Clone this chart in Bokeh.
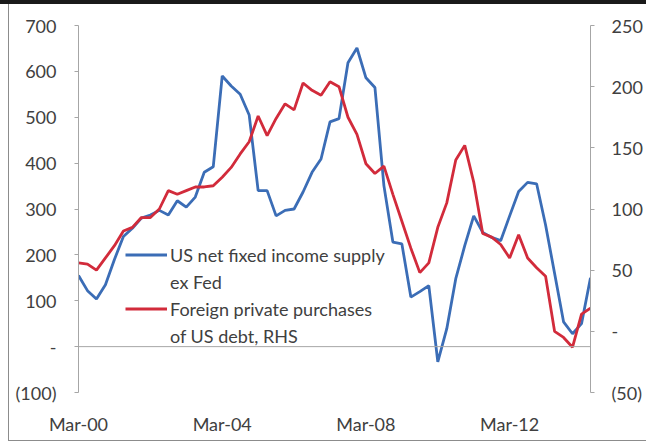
from bokeh.plotting import figure
from bokeh.models import (Range1d, LinearAxis, FixedTicker, Span, Legend, LegendItem,
                          ColumnDataSource)
from bokeh.embed import file_html
from bokeh.resources import INLINE

# Quarterly observations, Mar-00 .. Jun-14
x_tick_positions = [0, 16, 32, 48]
x_tick_labels = ["Mar-00", "Mar-04", "Mar-08", "Mar-12"]

supply = [155, 122, 104, 135, 190, 240, 258, 280, 287, 297,
          287, 318, 304, 326, 380, 392, 590, 568, 550, 505,
          340, 340, 285, 297, 300, 337, 380, 409, 490, 497,
          619, 651, 586, 565, 351, 228, 224, 108, 120, 133,
          -33, 39, 148, 220, 285, 249, 238, 231, 285, 338,
          358, 355, 265, 160, 54, 28, 50, 150]

foreign = [56, 55, 50, 60, 70, 82, 85, 93, 93, 100,
           115, 112, 115, 118, 118, 119, 126, 134, 145, 155,
           176, 160, 174, 186, 181, 203, 197, 193, 204, 200,
           175, 161, 137, 129, 135, 112, 90, 68, 48, 56,
           85, 105, 140, 152, 122, 80, 77, 71, 60, 79,
           60, 52, 45, 0, -5, -13, 14, 19]

left_ticks = [-100, 0, 100, 200, 300, 400, 500, 600, 700]
left_labels = ["(100)", "-", "100", "200", "300", "400", "500", "600", "700"]
right_ticks = [-50, 0, 50, 100, 150, 200, 250]
right_labels = ["(50)", "-", "50", "100", "150", "200", "250"]

idx = list(range(len(supply)))
src = ColumnDataSource(dict(x=idx, supply=supply, foreign=foreign))

FONT = "Lato"
FS = "18px"
TXT = "#404040"
AX = "#A6A6A6"
BLUE = "#3B6DB6"
RED = "#D22B3B"

p = figure(width=646, height=445, output_backend="svg", toolbar_location=None,
           x_range=Range1d(0, len(idx) - 1), y_range=Range1d(-100, 700),
           min_border_left=78, min_border_right=56, min_border_top=25, min_border_bottom=53)
p.extra_y_ranges = {"rhs": Range1d(-50, 250)}
p.xgrid.visible = False
p.ygrid.visible = False
p.outline_line_color = None
p.background_fill_color = "white"
p.border_fill_alpha = 0
# decorative chart frame painted behind the (transparent) border area
p.styles = {"background": (
    "linear-gradient(#1a1a1a, #1a1a1a) 0px 0px / 100% 4px no-repeat, "
    "linear-gradient(#8c8c8c, #8c8c8c) 8px 0px / 1px 441px no-repeat, "
    "linear-gradient(#8c8c8c, #8c8c8c) 8px 440px / 638px 1px no-repeat, "
    "white")}

# zero line
p.add_layout(Span(location=0, dimension="width", line_color=AX, line_width=1))

r_blue = p.line("x", "supply", source=src, line_color=BLUE, line_width=2.8)
r_red = p.line("x", "foreign", source=src, line_color=RED, line_width=2.8, y_range_name="rhs")
r_dummy = p.line("x", "supply", source=src, line_alpha=0)

# left axis
ya = p.yaxis[0]
ya.ticker = FixedTicker(ticks=left_ticks)
ya.major_label_overrides = {t: l for t, l in zip(left_ticks, left_labels)}
ya.axis_line_color = AX
ya.major_tick_line_color = AX
ya.major_tick_out = 4
ya.major_tick_in = 0
ya.minor_tick_line_color = None
ya.major_label_standoff = 18
ya.major_label_text_font = FONT
ya.major_label_text_font_size = FS
ya.major_label_text_color = TXT

# right axis
ra = LinearAxis(y_range_name="rhs")
ra.ticker = FixedTicker(ticks=right_ticks)
ra.major_label_overrides = {t: l for t, l in zip(right_ticks, right_labels)}
ra.axis_line_color = AX
ra.major_tick_line_color = AX
ra.major_tick_out = 4
ra.major_tick_in = 0
ra.minor_tick_line_color = None
ra.major_label_standoff = 17
ra.major_label_text_font = FONT
ra.major_label_text_font_size = FS
ra.major_label_text_color = TXT
p.add_layout(ra, "right")

# bottom axis
xa = p.xaxis[0]
xa.ticker = FixedTicker(ticks=x_tick_positions)
xa.major_label_overrides = {t: l for t, l in zip(x_tick_positions, x_tick_labels)}
xa.axis_line_color = None
xa.major_tick_line_color = None
xa.minor_tick_line_color = None
xa.major_label_standoff = 14
xa.major_label_text_font = FONT
xa.major_label_text_font_size = FS
xa.major_label_text_color = TXT

legend = Legend(items=[
    LegendItem(label="US net fixed income supply", renderers=[r_blue]),
    LegendItem(label="ex Fed", renderers=[r_dummy]),
    LegendItem(label="Foreign private purchases", renderers=[r_red]),
    LegendItem(label="of US debt, RHS", renderers=[r_dummy]),
], location=(47, 43))
legend.label_text_font = FONT
legend.label_text_font_size = FS
legend.label_text_color = TXT
legend.glyph_width = 42
legend.glyph_height = 27
legend.label_height = 27
legend.spacing = 0
legend.padding = 0
legend.margin = 0
legend.label_standoff = 3
legend.border_line_color = None
legend.background_fill_alpha = 0
p.add_layout(legend)

open("out.html", "w").write(file_html(p, INLINE))
